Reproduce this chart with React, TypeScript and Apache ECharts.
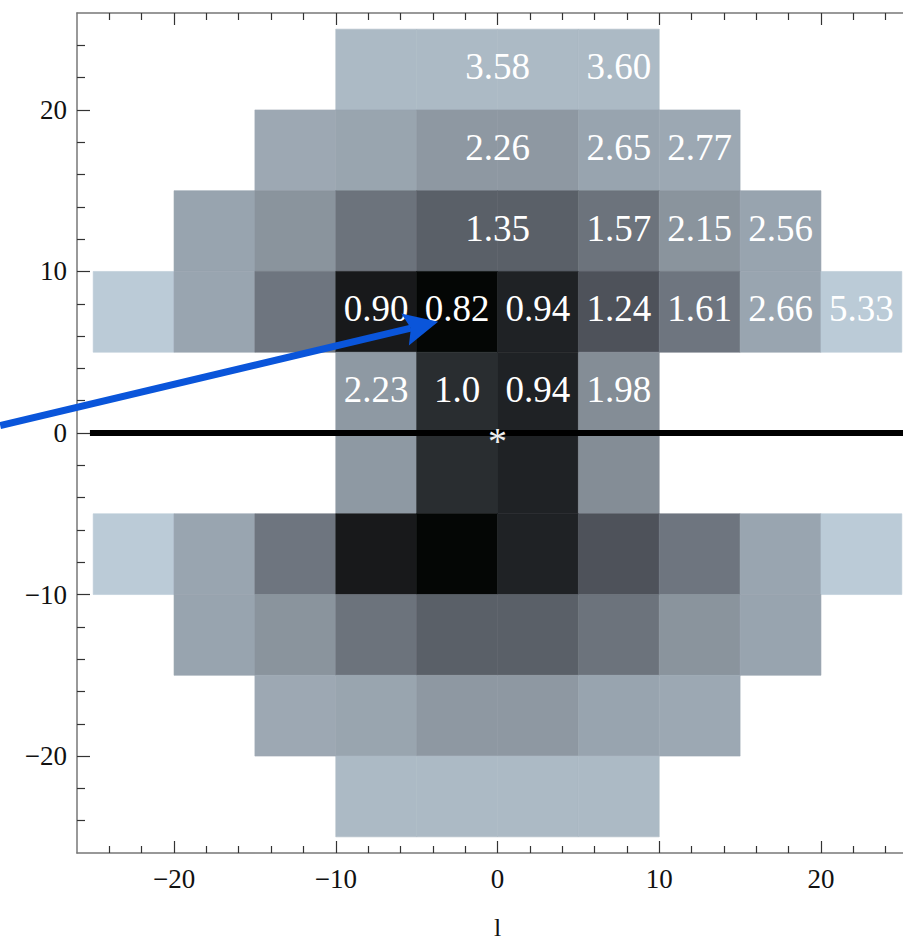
import React, { useEffect, useRef } from "react";
import * as echarts from "echarts";

// Bin edges (lower-left corner of each 5x5 cell)
const xStarts = [-25, -20, -15, -10, -5, 0, 5, 10, 15, 20];
const yStarts = [20, 15, 10, 5, 0, -5, -10, -15, -20, -25];
const binSize = 5;

// Cell shade per row (top to bottom), per column (left to right); null = empty
const rowColors: (string | null)[][] = [
  [null, null, null, "#acbac5", "#acbac5", "#acbac5", "#acbac5", null, null, null],
  [null, null, "#9da8b3", "#99a5af", "#8e98a2", "#8e98a2", "#98a4af", "#9ca8b3", null, null],
  [null, "#98a4af", "#8a949d", "#6c737c", "#5a6068", "#5a6068", "#6c737c", "#8a949d", "#98a4af", null],
  ["#bbcbd7", "#99a5b0", "#6e757f", "#18191b", "#040605", "#1f2225", "#4e525a", "#6e757f", "#99a5b0", "#bbcbd7"],
  [null, null, null, "#8e99a3", "#292d30", "#1f2225", "#848d96", null, null, null],
  [null, null, null, "#8e99a3", "#292d30", "#1f2225", "#848d96", null, null, null],
  ["#bbcbd7", "#99a5b0", "#6e757f", "#18191b", "#040605", "#1f2225", "#4e525a", "#6e757f", "#99a5b0", "#bbcbd7"],
  [null, "#98a4af", "#8a949d", "#6c737c", "#5a6068", "#5a6068", "#6c737c", "#8a949d", "#98a4af", null],
  [null, null, "#9da8b3", "#99a5af", "#8e98a2", "#8e98a2", "#98a4af", "#9ca8b3", null, null],
  [null, null, null, "#acbac5", "#acbac5", "#acbac5", "#acbac5", null, null, null],
];

// Value labels in the cells
const labelX = [0, 7.5, 0, 7.5, 12.5, 0, 7.5, 12.5, 17.5, -7.5, -2.5, 2.5, 7.5, 12.5, 17.5, 22.5, -7.5, -2.5, 2.5, 7.5];
const labelY = [22.5, 22.5, 17.5, 17.5, 17.5, 12.5, 12.5, 12.5, 12.5, 7.5, 7.5, 7.5, 7.5, 7.5, 7.5, 7.5, 2.5, 2.5, 2.5, 2.5];
const labelTexts = ["3.58", "3.60", "2.26", "2.65", "2.77", "1.35", "1.57", "2.15", "2.56", "0.90", "0.82", "0.94", "1.24", "1.61", "2.66", "5.33", "2.23", "1.0", "0.94", "1.98"];

// Marker at origin
const starPoint = [0, 0];

// Horizontal reference line at l-axis value 0
const refLine = [[-25.2, 0], [26, 0]];

// Blue arrow (from, to) in data coordinates
const arrowFrom = [-30.75, 0.46];
const arrowTo = [-3.67, 6.89];

// Axis ticks
const majorTicks = [-20, -10, 0, 10, 20];
const minorTicks = [-24, -22, -18, -16, -14, -12, -8, -6, -4, -2, 2, 4, 6, 8, 12, 14, 16, 18, 22, 24];
const axisMin = -26;
const axisMax = 26;

const fmt = (v: number) => (v < 0 ? "\u2212" + Math.abs(v) : String(v));
const SERIF = "Liberation Serif";

export default function App() {
  const ref = useRef<HTMLDivElement>(null);

  useEffect(() => {
    if (!ref.current) return;
    const chart = echarts.init(ref.current, undefined, { renderer: "svg" });

    const cellData: number[][] = [];
    const cellColorList: string[] = [];
    rowColors.forEach((row, r) => {
      row.forEach((c, k) => {
        if (c) {
          cellData.push([xStarts[k], yStarts[r], xStarts[k] + binSize, yStarts[r] + binSize]);
          cellColorList.push(c);
        }
      });
    });

    const lineColor = "#777";
    const tickColor = "#333";

    const mkX = (position: string, ticks: number[], len: number, main: boolean) => ({
      type: "value",
      min: axisMin,
      max: axisMax,
      position,
      splitLine: { show: false },
      axisLine: { show: main, onZero: false, lineStyle: { color: lineColor, width: 1.5 } },
      axisTick: { show: true, inside: true, length: len, customValues: ticks, lineStyle: { color: tickColor, width: 1.2 } },
      axisLabel: main && position === "bottom"
        ? { show: true, customValues: majorTicks, formatter: fmt, fontFamily: SERIF, fontSize: 27, color: "#111", margin: 12 }
        : { show: false },
      ...(main && position === "bottom"
        ? { name: "l", nameLocation: "middle", nameGap: 65, nameTextStyle: { fontFamily: SERIF, fontSize: 26, lineHeight: 18, color: "#111" } }
        : {}),
    });
    const mkY = (ticks: number[], len: number, main: boolean) => ({
      type: "value",
      min: axisMin,
      max: axisMax,
      position: "left",
      splitLine: { show: false },
      axisLine: { show: main, onZero: false, lineStyle: { color: lineColor, width: 1.5 } },
      axisTick: { show: true, inside: true, length: len, customValues: ticks, lineStyle: { color: tickColor, width: 1.2 } },
      axisLabel: main
        ? { show: true, customValues: majorTicks, formatter: fmt, fontFamily: SERIF, fontSize: 27, color: "#111", margin: 10 }
        : { show: false },
    });

    chart.setOption({
      animation: false,
      backgroundColor: "#fff",
      grid: { left: 77, right: -15, top: 13, bottom: 90, containLabel: false, outerBoundsMode: "none" },
      xAxis: [
        mkX("bottom", majorTicks, 12, true),
        mkX("bottom", minorTicks, 7, false),
        mkX("top", majorTicks, 12, true),
        mkX("top", minorTicks, 7, false),
      ],
      yAxis: [mkY(majorTicks, 13, true), mkY(minorTicks, 8, false)],
      series: [
        {
          type: "custom",
          z: 1,
          clip: true,
          data: cellData,
          encode: { x: [0, 2], y: [1, 3] },
          renderItem: (params: any, api: any) => {
            const p1 = api.coord([api.value(0), api.value(3)]);
            const p2 = api.coord([api.value(2), api.value(1)]);
            const c = cellColorList[params.dataIndex];
            return {
              type: "rect",
              shape: { x: p1[0], y: p1[1], width: p2[0] - p1[0], height: p2[1] - p1[1] },
              style: { fill: c, stroke: c, lineWidth: 0.6 },
            };
          },
        },
        {
          type: "line",
          z: 2,
          data: refLine,
          symbol: "none",
          lineStyle: { color: "#000", width: 6 },
          silent: true,
        },
        {
          type: "custom",
          z: 3,
          data: labelX.map((x, i) => [x, labelY[i]]),
          encode: { x: 0, y: 1 },
          renderItem: (params: any, api: any) => {
            const p = api.coord([api.value(0), api.value(1)]);
            return {
              type: "text",
              x: p[0],
              y: p[1] - 3,
              style: {
                text: labelTexts[params.dataIndex],
                fill: "#fff",
                fontFamily: SERIF,
                fontSize: 37,
                align: "center",
                verticalAlign: "middle",
              },
            };
          },
        },
        {
          type: "custom",
          z: 3,
          data: [starPoint],
          encode: { x: 0, y: 1 },
          renderItem: (params: any, api: any) => {
            const p = api.coord([api.value(0), api.value(1)]);
            return {
              type: "text",
              x: p[0],
              y: p[1] + 8,
              style: { text: "*", fill: "#eee", fontFamily: SERIF, fontSize: 38, align: "center", verticalAlign: "middle" },
            };
          },
        },
        {
          type: "custom",
          z: 4,
          clip: false,
          data: [[arrowFrom[0], arrowFrom[1], arrowTo[0], arrowTo[1]]],
          encode: { x: [0, 2], y: [1, 3] },
          renderItem: (params: any, api: any) => {
            const a = api.coord([api.value(0), api.value(1)]);
            const b = api.coord([api.value(2), api.value(3)]);
            const dx = b[0] - a[0];
            const dy = b[1] - a[1];
            const len = Math.sqrt(dx * dx + dy * dy);
            const ux = dx / len;
            const uy = dy / len;
            const px = -uy;
            const py = ux;
            const headLen = 34;
            const halfW = 16.5;
            const bx = b[0] - ux * headLen;
            const by = b[1] - uy * headLen;
            const nx = bx + ux * 6;
            const ny = by + uy * 6;
            return {
              type: "group",
              children: [
                {
                  type: "line",
                  shape: { x1: a[0], y1: a[1], x2: nx, y2: ny },
                  style: { stroke: "#0a55da", lineWidth: 7 },
                },
                {
                  type: "polygon",
                  shape: {
                    points: [
                      [b[0], b[1]],
                      [bx + px * halfW, by + py * halfW],
                      [nx, ny],
                      [bx - px * halfW, by - py * halfW],
                    ],
                  },
                  style: { fill: "#0a55da" },
                },
              ],
            };
          },
        },
      ],
    });

    return () => chart.dispose();
  }, []);

  return <div ref={ref} style={{ position: "absolute", left: 0, top: 0, width: 903, height: 943 }} />;
}
